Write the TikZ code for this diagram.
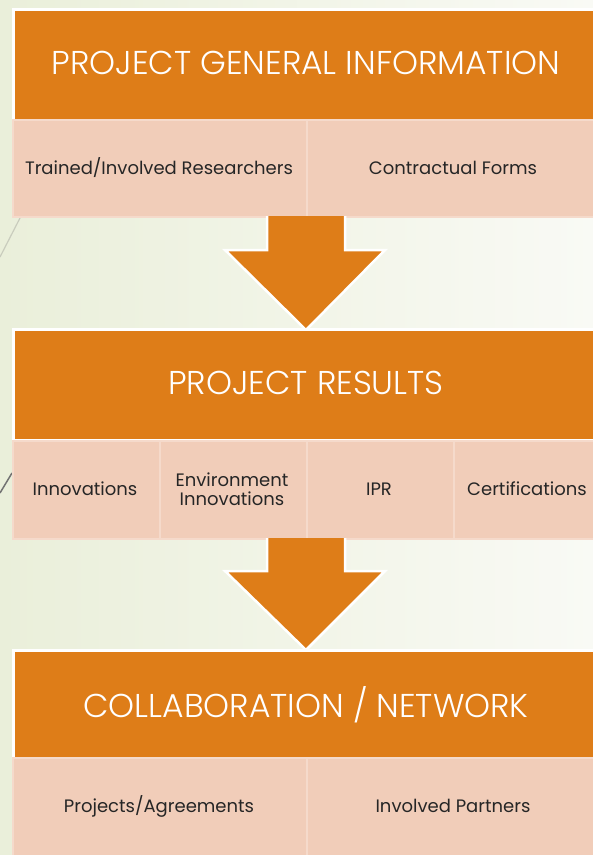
\documentclass[tikz,border=0pt]{standalone}
\usepackage{fontspec}
\setmainfont{Poppins}
\newfontfamily\hdrfont{Poppins Light}
\usetikzlibrary{calc}
\definecolor{orng}{HTML}{DE7D18}
\definecolor{pinkc}{HTML}{F1CDB9}
\definecolor{pinkl}{HTML}{F5DACB}
\definecolor{bgl}{HTML}{EAEFDA}
\definecolor{bgr}{HTML}{F9FAF5}
\definecolor{txt}{HTML}{262626}
\definecolor{deco}{HTML}{C9CCBD}
\tikzset{
  hdr/.style={anchor=north west, fill=orng, draw=white, line width=3pt, inner sep=0pt},
  hdrtext/.style={text=white, font=\hdrfont\fontsize{33}{38}\selectfont},
  cell/.style={anchor=north west, fill=pinkc, draw=pinkl, line width=2pt, inner sep=0pt},
  celltext/.style={text=txt, align=center, font=\fontsize{18}{20}\selectfont},
  blockarrow/.style={fill=orng, draw=white, line width=2.5pt, line join=miter},
}
\begin{document}
\begin{tikzpicture}[x=1pt,y=-1pt]
\useasboundingbox (0,0) rectangle (593,855);
\clip (0,0) rectangle (593,855);
\shade[left color=bgl, right color=bgr] (0,0) rectangle (593,855);
\draw[deco, line width=1.2pt] (20,218) -- (0,257);
\draw[black!55, line width=1.5pt] (12,473) -- (0,493);
% header 1
\node[hdr, minimum width=585pt, minimum height=111pt] (h1) at (11.5,7.5) {};
\node[hdrtext] (t1) at (306,63) {PROJECT GENERAL INFORMATION};
\node[cell, minimum width=294pt, minimum height=97pt] (c11) at (12,119) {};
\node[cell, minimum width=294pt, minimum height=97pt] (c12) at (306,119) {};
\node[celltext] (t11) at (159,168) {Trained/Involved Researchers};
\node[celltext] (t12) at (453,168) {Contractual Forms};
% arrow 1
\draw[blockarrow] (267,216) -- (267,250) -- (225,250) -- (306,330) -- (385,250) -- (345,250) -- (345,216);
% header 2
\node[hdr, minimum width=585pt, minimum height=111pt] (h2) at (11.5,327.5) {};
\node[hdrtext] (t2) at (306,383) {PROJECT RESULTS};
\node[cell, minimum width=147pt, minimum height=98pt] (c21) at (12,440) {};
\node[cell, minimum width=147pt, minimum height=98pt] (c22) at (159,440) {};
\node[cell, minimum width=147pt, minimum height=98pt] (c23) at (306,440) {};
\node[cell, minimum width=147pt, minimum height=98pt] (c24) at (453,440) {};
\node[celltext] (t21) at (85,489) {Innovations};
\node[celltext, font=\fontsize{18}{19.5}\selectfont] (t22) at (232,489) {Environment\\Innovations};
\node[celltext] (t23) at (379,489) {IPR};
\node[celltext] (t24) at (527,489) {Certifications};
% arrow 2
\draw[blockarrow] (267,538) -- (267,571) -- (225,571) -- (306,650) -- (385,571) -- (345,571) -- (345,538);
% header 3
\node[hdr, minimum width=585pt, minimum height=108pt] (h3) at (11.5,648.5) {};
\node[hdrtext] (t3) at (306,705) {COLLABORATION / NETWORK};
\node[cell, minimum width=294pt, minimum height=105pt] (c31) at (12,757) {};
\node[cell, minimum width=294pt, minimum height=105pt] (c32) at (306,757) {};
\node[celltext] (t31) at (159,806) {Projects/Agreements};
\node[celltext] (t32) at (453,806) {Involved Partners};
\end{tikzpicture}
\end{document}
